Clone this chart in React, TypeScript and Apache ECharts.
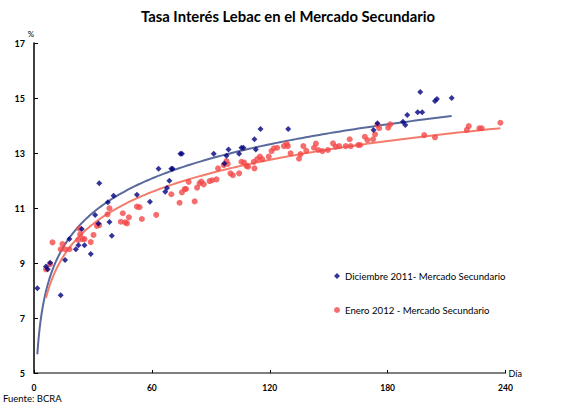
import React, { useEffect, useRef } from "react";
import * as echarts from "echarts";

const TITLE = "Tasa Interés Lebac en el Mercado Secundario";
const SERIES_DIC = "Diciembre 2011- Mercado Secundario";
const SERIES_ENE = "Enero 2012 - Mercado Secundario";
const SOURCE = "Fuente: BCRA";
const X_TICKS = [0, 60, 120, 180, 240];
const Y_TICKS = [5, 7, 9, 11, 13, 15, 17];

// [día, tasa %]
const diciembre: number[][] = [
  [1.7, 8.08], [6.1, 8.87], [7.0, 8.77], [8.2, 9.01], [13.6, 7.83], [15.8, 9.11],
  [18.0, 9.87], [21.3, 9.5], [22.6, 9.65], [24.3, 10.24], [25.7, 9.65], [28.9, 9.33],
  [31.1, 10.75], [32.8, 10.44], [33.2, 11.9], [37.6, 11.21], [38.4, 10.49], [39.6, 9.99],
  [40.5, 11.45], [52.4, 11.48], [59.0, 11.23], [63.4, 12.43], [66.8, 11.59], [67.7, 11.73],
  [68.9, 11.99], [69.9, 12.43], [70.6, 12.43], [74.5, 12.97], [75.3, 12.97], [91.5, 12.97],
  [96.9, 12.62], [98.0, 12.9], [99.0, 13.13], [104.4, 12.97], [105.6, 13.19], [106.6, 13.19],
  [112.2, 13.5], [112.9, 13.13], [115.3, 13.87], [129.4, 13.87], [172.8, 13.84], [174.8, 14.08],
  [187.8, 14.14], [189.0, 14.02], [190.0, 14.38], [195.3, 14.48], [196.6, 15.22], [197.6, 14.48],
  [204.1, 14.89], [205.1, 14.96], [212.6, 15.0],
];

const enero: number[][] = [
  [6.1, 8.77], [8.2, 8.96], [9.4, 9.75], [13.6, 9.5], [14.5, 9.69], [15.8, 9.5], [18.0, 9.5],
  [22.6, 9.84], [23.1, 10.25], [23.5, 10.04], [24.8, 9.87], [25.7, 9.87], [28.9, 9.76],
  [30.3, 10.02], [32.0, 10.35], [33.2, 10.38], [37.4, 10.77], [38.4, 10.99], [44.2, 10.5],
  [45.2, 10.81], [46.4, 10.48], [47.3, 10.44], [48.3, 10.66], [52.4, 11.05], [53.7, 11.03],
  [54.9, 10.6], [62.2, 10.75], [69.9, 11.5], [74.1, 11.19], [75.3, 11.57], [76.7, 11.69],
  [77.4, 11.69], [78.7, 11.95], [81.8, 11.24], [83.0, 11.74], [84.3, 11.9], [85.2, 11.96],
  [86.4, 11.86], [89.4, 11.98], [90.7, 12.01], [92.9, 12.04], [93.7, 12.44], [96.6, 12.56],
  [98.0, 12.71], [98.6, 12.6], [100.0, 12.26], [101.2, 12.19], [104.4, 12.26], [105.6, 12.68],
  [107.0, 12.65], [108.2, 12.53], [109.0, 12.5], [111.9, 12.68], [112.2, 12.44], [113.6, 12.78],
  [115.0, 12.87], [116.2, 12.77], [119.5, 12.87], [120.9, 13.07], [122.1, 13.17], [123.8, 13.19],
  [127.2, 13.25], [128.6, 13.33], [129.2, 13.25], [130.6, 12.99], [134.9, 12.79], [135.7, 12.96],
  [137.1, 13.25], [138.6, 13.08], [142.5, 13.19], [143.5, 13.34], [144.7, 13.11], [146.8, 13.07],
  [149.6, 13.11], [152.2, 13.35], [153.6, 13.23], [155.3, 13.25], [158.7, 13.25], [160.7, 13.5],
  [161.2, 13.25], [165.0, 13.29], [166.0, 13.29], [168.4, 13.59], [169.7, 13.47], [172.6, 13.5],
  [173.6, 13.68], [174.8, 14.02], [175.7, 13.9], [180.3, 13.92], [181.3, 14.04], [198.6, 13.65],
  [204.1, 13.57], [220.3, 13.84], [221.3, 13.98], [226.7, 13.9], [227.9, 13.9], [237.4, 14.1],
];

// Logarithmic trendline (least squares on ln(x)), like a spreadsheet trendline
function logTrend(data: number[][], steps = 200): number[][] {
  const n = data.length;
  let sx = 0, sy = 0, sxx = 0, sxy = 0;
  for (const [x, y] of data) {
    const lx = Math.log(x);
    sx += lx; sy += y; sxx += lx * lx; sxy += lx * y;
  }
  const b = (n * sxy - sx * sy) / (n * sxx - sx * sx);
  const a = (sy - b * sx) / n;
  const xs = data.map((d) => d[0]);
  const x0 = Math.min(...xs), x1 = Math.max(...xs);
  const out: number[][] = [];
  for (let i = 0; i <= steps; i++) {
    const t = i / steps;
    const x = x0 + (x1 - x0) * t * t;
    out.push([x, a + b * Math.log(x)]);
  }
  return out;
}

const FONT = "Lato";

export default function App() {
  const ref = useRef<HTMLDivElement>(null);
  useEffect(() => {
    if (!ref.current) return;
    const chart = echarts.init(ref.current, undefined, { renderer: "svg" });
    chart.setOption({
      animation: false,
      backgroundColor: "#ffffff",
      textStyle: { fontFamily: FONT },
      title: {
        text: TITLE,
        left: 141,
        top: 8,
        padding: 0,
        textStyle: { fontFamily: FONT, fontSize: 14.8, fontWeight: "bold", color: "#000" },
      },
      legend: {
        orient: "vertical",
        left: 334,
        top: 269,
        padding: 0,
        itemWidth: 6,
        itemHeight: 6,
        itemGap: 20,
        textStyle: { fontFamily: FONT, fontSize: 9.6, color: "#000", lineHeight: 14 },
        data: [
          { name: SERIES_DIC, icon: "diamond" },
          { name: SERIES_ENE, icon: "circle" },
        ],
      },
      grid: { left: 34, right: 55.5, top: 43, bottom: 36, containLabel: false },
      xAxis: {
        type: "value",
        min: X_TICKS[0],
        max: X_TICKS[X_TICKS.length - 1],
        interval: 60,
        name: "Día",
        nameLocation: "end",
        nameGap: 3,
        nameTextStyle: { fontFamily: FONT, fontSize: 9, color: "#000" },
        axisLine: { lineStyle: { color: "#555", width: 1.5 } },
        axisTick: { inside: true, length: 3, lineStyle: { color: "#000" } },
        axisLabel: { margin: 10, fontFamily: FONT, fontSize: 8.5, fontWeight: "bold", color: "#000" },
        splitLine: { show: false },
      },
      yAxis: {
        type: "value",
        min: Y_TICKS[0],
        max: Y_TICKS[Y_TICKS.length - 1],
        interval: 2,
        name: "%",
        nameLocation: "end",
        nameGap: 5,
        nameTextStyle: { fontFamily: FONT, fontSize: 8, color: "#000", padding: [0, 6, 0, 0] },
        axisLine: { show: true, lineStyle: { color: "#000", width: 1.5 } },
        axisTick: { show: true, inside: true, length: 4, lineStyle: { color: "#000" } },
        axisLabel: { margin: 9, fontFamily: FONT, fontSize: 9, fontWeight: "bold", color: "#000" },
        splitLine: { show: false },
      },
      series: [
        {
          name: "Tendencia Diciembre",
          type: "line",
          data: logTrend(diciembre),
          showSymbol: false,
          symbol: "none",
          lineStyle: { color: "#5A6A9C", width: 2 },
          z: 1,
        },
        {
          name: "Tendencia Enero",
          type: "line",
          data: logTrend(enero),
          showSymbol: false,
          symbol: "none",
          lineStyle: { color: "#F47C6C", width: 2 },
          z: 1,
        },
        {
          name: SERIES_DIC,
          type: "scatter",
          data: diciembre,
          symbol: "diamond",
          symbolSize: 6,
          itemStyle: { color: "#000080" },
          z: 3,
        },
        {
          name: SERIES_ENE,
          type: "scatter",
          data: enero,
          symbol: "circle",
          symbolSize: 6,
          itemStyle: { color: "#F24848" },
          z: 2,
        },
      ],
      graphic: [
        {
          type: "text",
          left: 3,
          top: 393,
          style: { text: SOURCE, fontFamily: FONT, fontSize: 9.5, fill: "#000" },
        },
      ],
    });
    return () => chart.dispose();
  }, []);
  return (
    <div
      ref={ref}
      style={{ position: "fixed", left: 0, top: 0, width: 561, height: 409, background: "#fff" }}
    />
  );
}
